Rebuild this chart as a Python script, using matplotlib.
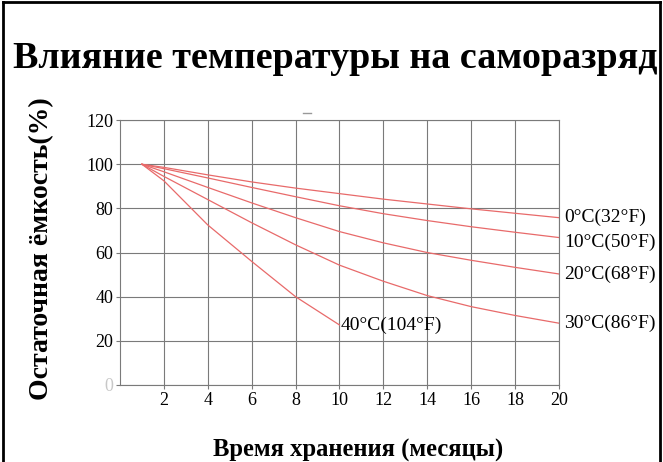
import matplotlib.pyplot as plt
from matplotlib.lines import Line2D

# данные
months = [1, 2, 4, 6, 8, 10, 12, 14, 16, 18, 20]
cap_0c = [100, 98.6, 95.2, 92.0, 89.2, 86.7, 84.2, 82.0, 79.8, 77.8, 75.8]
cap_10c = [100, 98.0, 93.8, 89.5, 85.3, 81.2, 77.6, 74.5, 71.7, 69.2, 66.8]
cap_20c = [100, 96.6, 89.5, 82.5, 75.8, 69.5, 64.4, 60.0, 56.5, 53.3, 50.3]
cap_30c = [100, 94.5, 84.0, 73.5, 63.5, 54.3, 47.0, 40.5, 35.5, 31.5, 28.0]
months_40c = [1, 2, 4, 6, 8, 10]
cap_40c = [100, 92.5, 72.5, 56.0, 40.0, 27.2]

labels = ['0°C(32°F)', '10°C(50°F)', '20°C(68°F)', '30°C(86°F)', '40°C(104°F)']
x_ticks = [2, 4, 6, 8, 10, 12, 14, 16, 18, 20]
y_ticks = [0, 20, 40, 60, 80, 100, 120]

serif = 'Liberation Serif'
line_col = '#e86a6a'
grid_col = '#7a7a7a'

fig = plt.figure(figsize=(6.63, 4.62), dpi=100)
ax = fig.add_axes([0.181, 0.1667, 0.662, 0.5733])

for ys in [cap_0c, cap_10c, cap_20c, cap_30c]:
    ax.plot(months, ys, color=line_col, lw=0.9)
ax.plot(months_40c, cap_40c, color=line_col, lw=0.9)

# подписи кривых
offs = [0, -2, 0, 0]
for ys, lab, dy in zip([cap_0c, cap_10c, cap_20c, cap_30c], labels[:4], offs):
    ax.text(20.25, ys[-1] + dy, lab, family=serif, fontsize=14,
            va='center', ha='left', clip_on=False)
ax.text(months_40c[-1] + 0.05, cap_40c[-1], labels[4], family=serif,
        fontsize=14, va='center', ha='left')

ax.set_xlim(0, 20)
ax.set_ylim(0, 120)
ax.set_xticks(x_ticks)
ax.set_yticks(y_ticks)
ax.set_yticklabels([str(v) for v in y_ticks])
ax.grid(True, color=grid_col, lw=0.8)
ax.set_axisbelow(True)
for s in ax.spines.values():
    s.set_color(grid_col)
    s.set_linewidth(0.8)
ax.tick_params(length=3, color=grid_col, pad=2)
for t in ax.get_xticklabels() + ax.get_yticklabels():
    t.set_family(serif)
    t.set_fontsize(13)
ax.get_yticklabels()[0].set_color('#c8c8c8')

fig.text(0.505, 0.853, 'Влияние температуры на саморазряд', family=serif,
         fontsize=27.4, fontweight='bold', ha='center', va='baseline')
fig.text(0.063, 0.461, 'Остаточная ёмкость(%)', family=serif, fontsize=20,
         fontweight='bold', rotation=90, ha='center', va='center')
fig.text(0.54, 0.024, 'Время хранения (месяцы)', family=serif, fontsize=17.7,
         fontweight='bold', ha='center', va='center')

# маленький штрих над сеткой, как в оригинале
fig.add_artist(Line2D([0.457, 0.469], [0.755, 0.755], color='#999999', lw=1,
                      transform=fig.transFigure))

# рамка вокруг рисунка
for xs, ys in [([0.004, 0.004], [0, 0.996]), ([0.004, 0.996], [0.996, 0.996]),
               ([0.996, 0.996], [0, 0.996])]:
    fig.add_artist(Line2D(xs, ys, color='black', lw=2, transform=fig.transFigure))

fig.savefig('out.png', dpi=100)
